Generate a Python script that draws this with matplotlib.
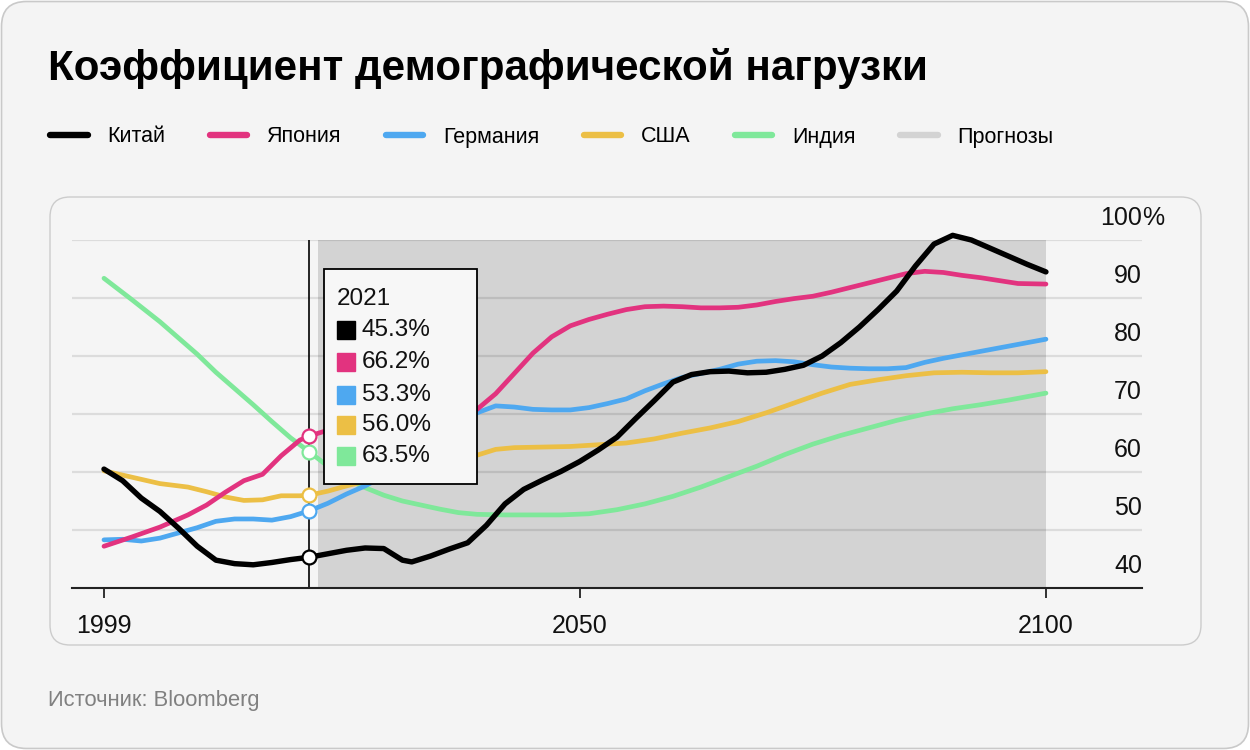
import matplotlib
matplotlib.use("Agg")
import matplotlib.pyplot as plt
from matplotlib.patches import FancyBboxPatch, Rectangle
from matplotlib.lines import Line2D

plt.rcParams['font.family'] = ['Liberation Sans', 'DejaVu Sans']

# Данные
china_years = [1999, 2001, 2003, 2005, 2007, 2009, 2011, 2013, 2015, 2017, 2019, 2021,
               2023, 2025, 2027, 2029, 2031, 2032, 2034, 2036, 2038, 2040, 2042, 2044,
               2046, 2048, 2050, 2052, 2054, 2056, 2058, 2060, 2062, 2064, 2066, 2068,
               2070, 2072, 2074, 2076, 2078, 2080, 2082, 2084, 2086, 2088, 2090, 2092,
               2094, 2096, 2098, 2100]
china = [60.5, 58.5, 55.5, 53.2, 50.3, 47.2, 44.8, 44.2, 44.0, 44.4, 44.9, 45.3,
         45.9, 46.5, 46.9, 46.8, 44.8, 44.5, 45.5, 46.7, 47.8, 50.8, 54.5, 57.0,
         58.6, 60.1, 61.8, 63.8, 66.0, 69.2, 72.3, 75.5, 76.8, 77.3, 77.4, 77.1,
         77.2, 77.7, 78.4, 80.0, 82.3, 85.0, 88.0, 91.2, 95.5, 99.3, 100.8, 100.0,
         98.6, 97.2, 95.8, 94.5]

japan_years = [1999, 2002, 2005, 2008, 2010, 2012, 2014, 2016, 2018, 2020, 2021, 2023,
               2027, 2031, 2035, 2038, 2039, 2041, 2043, 2045, 2047, 2049, 2051, 2053,
               2055, 2057, 2059, 2061, 2063, 2065, 2067, 2069, 2071, 2073, 2075, 2077,
               2079, 2081, 2083, 2085, 2087, 2089, 2091, 2093, 2095, 2097, 2100]
japan = [47.2, 48.8, 50.5, 52.6, 54.3, 56.5, 58.5, 59.6, 62.8, 65.5, 66.2, 67.2,
         68.0, 68.6, 69.3, 70.2, 70.8, 73.5, 77.0, 80.5, 83.3, 85.2, 86.3, 87.2,
         88.0, 88.5, 88.6, 88.5, 88.3, 88.3, 88.4, 88.8, 89.4, 89.9, 90.3, 91.0,
         91.8, 92.6, 93.4, 94.2, 94.6, 94.4, 93.9, 93.5, 93.0, 92.5, 92.4]

germany_years = [1999, 2001, 2003, 2005, 2007, 2009, 2011, 2013, 2015, 2017, 2019, 2021,
                 2023, 2025, 2027, 2029, 2031, 2033, 2035, 2037, 2039, 2041, 2043, 2045,
                 2047, 2049, 2051, 2053, 2055, 2057, 2059, 2061, 2063, 2065, 2067, 2069,
                 2071, 2073, 2075, 2077, 2079, 2081, 2083, 2085, 2087, 2089, 2091, 2093,
                 2095, 2097, 2100]
germany = [48.3, 48.4, 48.1, 48.6, 49.5, 50.4, 51.5, 51.9, 51.9, 51.7, 52.3, 53.3,
           54.6, 56.2, 57.6, 59.3, 61.5, 63.8, 66.0, 68.2, 70.2, 71.4, 71.2, 70.8,
           70.7, 70.7, 71.1, 71.8, 72.6, 74.0, 75.2, 76.3, 77.0, 77.7, 78.6, 79.1,
           79.2, 79.0, 78.5, 78.1, 77.9, 77.8, 77.8, 78.0, 78.9, 79.6, 80.2, 80.8,
           81.4, 82.0, 82.9]

usa_years = [1999, 2002, 2005, 2008, 2010, 2012, 2014, 2016, 2018, 2020, 2021, 2023,
             2025, 2027, 2029, 2032, 2035, 2037, 2039, 2041, 2043, 2046, 2049, 2052,
             2055, 2058, 2061, 2064, 2067, 2070, 2073, 2076, 2079, 2082, 2085, 2088,
             2091, 2094, 2097, 2100]
usa = [60.2, 59.1, 58.0, 57.4, 56.6, 55.7, 55.1, 55.2, 55.9, 55.9, 56.0, 56.7,
       57.6, 58.4, 59.2, 60.2, 61.2, 62.0, 62.9, 63.9, 64.2, 64.3, 64.4, 64.7,
       65.0, 65.7, 66.7, 67.6, 68.7, 70.2, 71.9, 73.6, 75.1, 75.9, 76.6, 77.1,
       77.2, 77.1, 77.1, 77.3]

india_years = [1999, 2002, 2005, 2007, 2009, 2011, 2013, 2015, 2017, 2019, 2021, 2023,
               2025, 2027, 2029, 2031, 2033, 2035, 2037, 2039, 2042, 2045, 2048, 2051,
               2054, 2057, 2060, 2063, 2066, 2069, 2072, 2075, 2078, 2081, 2084, 2087,
               2090, 2093, 2096, 2100]
india = [93.4, 89.7, 85.9, 83.1, 80.3, 77.2, 74.4, 71.6, 68.7, 65.9, 63.5, 61.0,
         58.8, 57.3, 56.0, 55.0, 54.3, 53.6, 53.0, 52.7, 52.6, 52.6, 52.6, 52.8,
         53.5, 54.5, 55.8, 57.4, 59.2, 61.0, 63.0, 64.8, 66.3, 67.6, 68.9, 70.0,
         70.9, 71.6, 72.4, 73.6]

names = ['Китай', 'Япония', 'Германия', 'США', 'Индия']
colors = ['#000000', '#e2337f', '#4ea8f0', '#ecbf45', '#7fe89a']
series_years = [china_years, japan_years, germany_years, usa_years, india_years]
series_vals = [china, japan, germany, usa, india]

hover_year = 2021
hover_vals = [45.3, 66.2, 53.3, 56.0, 63.5]
forecast_start, forecast_end = 2022, 2100
y_ticks = [40, 50, 60, 70, 80, 90, 100]
x_ticks = [1999, 2050, 2100]

W, H = 1250, 750
fig = plt.figure(figsize=(W / 100, H / 100), dpi=100, facecolor='white')

# фон карточки и внутренняя панель
fig.patches.append(FancyBboxPatch((1.5 / W, 1.5 / H), (W - 3) / W, (H - 3) / H,
                                  boxstyle='round,pad=0,rounding_size=0.02',
                                  transform=fig.transFigure, facecolor='#f4f4f4',
                                  edgecolor='#c9c9c9', lw=1.2, mutation_aspect=W / H,
                                  zorder=-2))
fig.patches.append(FancyBboxPatch((50 / W, 1 - 645 / H), 1151 / W, 448 / H,
                                  boxstyle='round,pad=0,rounding_size=0.016',
                                  transform=fig.transFigure, facecolor='#f5f5f5',
                                  edgecolor='#cccccc', lw=1.0, mutation_aspect=W / H,
                                  zorder=-1))

ax = fig.add_axes([72 / W, 1 - 588 / H, 1070 / W, 348 / H])
ax.set_facecolor('none')
ax.set_xlim(1995.57, 2110.3)
ax.set_ylim(40, 100)

ax.axvspan(forecast_start, forecast_end, color='#d3d3d3', lw=0, zorder=0)
for v in y_ticks[1:]:
    ax.axhline(v, color='black', alpha=0.1, lw=1.6, zorder=1)

ax.axvline(hover_year, color='black', lw=1.2, zorder=3)

for i in range(len(names) - 1, -1, -1):
    ax.plot(series_years[i], series_vals[i], color=colors[i],
            lw=3.9 if i == 0 else 3.4, solid_capstyle='round',
            solid_joinstyle='round', zorder=9 - i, clip_on=False)
    ax.plot([hover_year], [hover_vals[i]], marker='o', ms=10, mfc='white',
            mec=colors[i], mew=1.6, zorder=10, ls='none')

for s in ['top', 'left', 'right']:
    ax.spines[s].set_visible(False)
ax.spines['bottom'].set_color('#222222')
ax.spines['bottom'].set_linewidth(1.5)
ax.spines['bottom'].set_zorder(11)
ax.set_xticks(x_ticks)
ax.set_xticklabels([str(t) for t in x_ticks])
ax.tick_params(axis='x', length=7, width=1.3, color='#222222', pad=11.5,
               labelsize=18, labelcolor='#111111')
ax.set_yticks([])

for v in y_ticks:
    txt = str(v)
    ax.text(1.0, v + 3.8, txt, transform=ax.get_yaxis_transform(), ha='right',
            va='center', fontsize=18, color='#111111')
    if v == 100:
        ax.text(1.0, v + 3.8, '%', transform=ax.get_yaxis_transform(), ha='left',
                va='center', fontsize=18, color='#111111')

# всплывающая подсказка
ax.add_patch(Rectangle((0.2355, 0.2989), 0.143, 0.618, transform=ax.transAxes,
                       facecolor='#f7f7f7', edgecolor='black', lw=1.3, zorder=12))
ax.text(0.2477, 0.831, str(hover_year), transform=ax.transAxes, ha='left',
        va='center', fontsize=17.5, color='#111111', zorder=13)
row_y = [0.740, 0.648, 0.556, 0.467, 0.378]
for i in range(len(names)):
    ax.plot([0.2561], [row_y[i]], marker='s', ms=12.5, color=colors[i],
            transform=ax.transAxes, zorder=13, clip_on=False)
    ax.text(0.271, row_y[i], f'{hover_vals[i]:.1f}%', transform=ax.transAxes,
            ha='left', va='center', fontsize=17.5, color='#111111', zorder=13)

# заголовок, легенда, источник
fig.text(48 / W, 1 - 80 / H, 'Коэффициент демографической нагрузки',
         fontsize=30.3, fontweight='bold', color='black', va='baseline')

handles = [Line2D([0], [0], color=c, lw=4.6, solid_capstyle='round') for c in colors]
handles.append(Line2D([0], [0], color='#d3d3d3', lw=4.6, solid_capstyle='round'))
labels = names + ['Прогнозы']
fig.legend(handles, labels, loc='center left', bbox_to_anchor=(50 / W, 1 - 137 / H),
           ncol=6, frameon=False, fontsize=15.5, handlelength=1.75,
           handletextpad=0.92, columnspacing=2.05, borderpad=0, borderaxespad=0)

fig.text(48 / W, 1 - 706 / H, 'Источник: Bloomberg', fontsize=15.8,
         color='#808080', va='baseline')

fig.savefig('out.png', dpi=100, facecolor=fig.get_facecolor())
